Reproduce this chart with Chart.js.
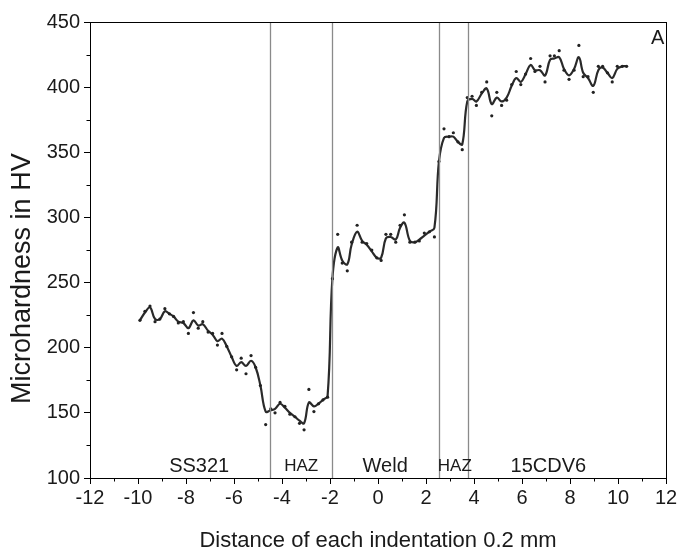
<!DOCTYPE html>
<html>
<head>
<meta charset="utf-8">
<script src="https://cdn.jsdelivr.net/npm/chart.js@4"></script>
<style>
  html, body { margin: 0; padding: 0; background: #fff; }
  #wrap { width: 681px; height: 552px; }
</style>
</head>
<body>
<div id="wrap"><canvas id="c" width="681" height="552"></canvas></div>
<script>
// Measured indentation positions (x, in units of 0.2 mm) and hardness (HV)
const positions = [-9.92,-9.71,-9.50,-9.29,-9.09,-8.88,-8.69,-8.52,-8.32,-8.11,-7.90,-7.69,-7.49,-7.30,-7.08,-6.89,-6.69,-6.50,-6.30,-6.10,
  -5.89,-5.70,-5.50,-5.29,-5.10,-4.90,-4.68,-4.47,-4.29,-4.08,-3.88,-3.67,-3.46,-3.27,-3.08,-2.88,-2.67,-2.48,-2.29,-2.10,
  -1.90,-1.68,-1.49,-1.28,-1.10,-0.87,-0.66,-0.47,-0.26,-0.05,0.13,0.33,0.53,0.74,0.92,1.10,1.33,1.54,1.72,1.93,
  2.14,2.35,2.54,2.75,2.96,3.14,3.33,3.51,3.72,3.92,4.10,4.32,4.53,4.74,4.95,5.15,5.36,5.57,5.76,5.95,
  6.15,6.36,6.54,6.75,6.96,7.17,7.35,7.55,7.75,7.96,8.17,8.37,8.55,8.75,8.97,9.18,9.36,9.56,9.76,9.97,10.18,10.36];
const hardness = [221,228,232,220,222,230,226,224,219,220,211,227,215,220,212,211,202,211,201,193,
  183,192,180,194,185,171,141,153,150,158,155,149,147,142,137,168,151,157,160,162,
  253,287,265,259,281,294,281,280,275,269,267,287,287,281,294,302,281,281,282,288,
  289,285,343,368,362,365,358,352,392,393,386,396,404,378,396,386,390,402,412,402,
  410,422,412,416,404,424,424,428,413,406,413,432,408,408,396,416,416,411,404,416,416,416];
// Smoothed trend line at the same positions
const trend = [221,227,231,222,222,228,226,224,220,219,215,221,217,218,213,210,205,207,201,193,
  186,189,186,190,185,171,151,152,153,157,154,150,147,144,142,158,155,157,160,163,
  253,277,267,264,279,289,282,279,274,269,269,284,285,283,292,296,282,281,283,286,
  289,292,343,361,362,362,358,356,389,391,389,395,399,387,392,389,392,401,407,404,
  410,417,413,413,409,421,422,423,414,409,414,423,411,407,401,413,415,411,407,414,416,416];
// Zone boundaries and labels
const boundaries = [-4.5, -1.9, 2.56, 3.76];
const zoneNames = ['SS321', 'HAZ', 'Weld', 'HAZ', '15CDV6'];
const zoneCenters = [-7.45, -3.2, 0.3, 3.2, 7.1];
const zoneSmall = [false, true, false, true, false];
const zoneLabelY = 109;
const panelLetter = 'A';
const xTicksMajor = [-12,-10,-8,-6,-4,-2,0,2,4,6,8,10,12];
const yTicksMajor = [100,150,200,250,300,350,400,450];
const yTitle = 'Microhardness in HV';
const xTitle = 'Distance of each indentation 0.2 mm';

const FONT = '"Liberation Sans", Arial, sans-serif';

const decor = {
  id: 'decor',
  afterDraw(chart) {
    const { ctx, chartArea: a, scales: { x, y } } = chart;
    ctx.save();
    // boundary lines
    ctx.strokeStyle = '#8a8a8a';
    ctx.lineWidth = 1.3;
    boundaries.forEach(b => {
      const px = Math.round(x.getPixelForValue(b)) + 0.5;
      ctx.beginPath(); ctx.moveTo(px, a.top); ctx.lineTo(px, a.bottom); ctx.stroke();
    });
    // frame
    ctx.strokeStyle = '#000';
    ctx.lineWidth = 1;
    ctx.strokeRect(Math.round(a.left) + 0.5, Math.round(a.top) + 0.5, Math.round(a.right - a.left), Math.round(a.bottom - a.top));
    // minor ticks
    ctx.beginPath();
    for (let v = -11; v <= 11; v += 2) {
      const px = Math.round(x.getPixelForValue(v)) + 0.5;
      ctx.moveTo(px, a.bottom); ctx.lineTo(px, a.bottom + 3.5);
    }
    for (let v = 125; v <= 425; v += 50) {
      const py = Math.round(y.getPixelForValue(v)) + 0.5;
      ctx.moveTo(a.left, py); ctx.lineTo(a.left - 3.5, py);
    }
    ctx.stroke();
    // zone labels
    ctx.fillStyle = '#1a1a1a';
    ctx.textAlign = 'center';
    ctx.textBaseline = 'middle';
    zoneNames.forEach((n, i) => {
      ctx.font = (zoneSmall[i] ? '17px ' : '20px ') + FONT;
      ctx.fillText(n, x.getPixelForValue(zoneCenters[i]), y.getPixelForValue(zoneLabelY));
    });
    // panel letter
    ctx.font = '20px ' + FONT;
    ctx.fillText(panelLetter, x.getPixelForValue(11.65), y.getPixelForValue(437));
    // y axis title (offset below centre, as in the original)
    ctx.save();
    ctx.translate(23, y.getPixelForValue(253));
    ctx.rotate(-Math.PI / 2);
    ctx.font = '27px ' + FONT;
    ctx.fillText(yTitle, 0, 0);
    ctx.restore();
    ctx.restore();
  }
};

new Chart(document.getElementById('c'), {
  type: 'scatter',
  data: {
    datasets: [
      {
        type: 'line',
        data: positions.map((p, i) => ({ x: p, y: trend[i] })),
        borderColor: '#2a2a2a',
        borderWidth: 2.2,
        pointRadius: 0,
        tension: 0.4,
        fill: false,
        order: 2
      },
      {
        data: positions.map((p, i) => ({ x: p, y: hardness[i] })),
        backgroundColor: '#222',
        borderColor: '#222',
        pointRadius: 1.6,
        borderWidth: 0,
        order: 1
      }
    ]
  },
  options: {
    responsive: false,
    animation: false,
    events: [],
    layout: { padding: { left: 0, right: 15, top: 22, bottom: 0 } },
    plugins: { legend: { display: false }, tooltip: { enabled: false } },
    scales: {
      x: {
        type: 'linear', min: -12, max: 12,
        afterBuildTicks: s => { s.ticks = xTicksMajor.map(v => ({ value: v })); },
        afterFit: s => { s.height = 74; },
        grid: { drawOnChartArea: false, drawTicks: true, tickLength: 6, color: '#000', tickColor: '#000' },
        border: { display: true, color: '#000', width: 1 },
        ticks: { color: '#1a1a1a', font: { family: FONT, size: 20 }, padding: 2, maxRotation: 0 },
        title: { display: true, text: xTitle, color: '#1a1a1a', font: { family: FONT, size: 22, lineHeight: 1 }, padding: { top: 8, bottom: 0 } }
      },
      y: {
        type: 'linear', min: 100, max: 450,
        afterBuildTicks: s => { s.ticks = yTicksMajor.map(v => ({ value: v })); },
        afterFit: s => { s.width = 90; },
        grid: { drawOnChartArea: false, drawTicks: true, tickLength: 6, color: '#000', tickColor: '#000' },
        border: { display: true, color: '#000', width: 1 },
        ticks: { color: '#1a1a1a', font: { family: FONT, size: 20 }, padding: 4 },
        title: { display: false }
      }
    }
  },
  plugins: [decor]
});
</script>
</body>
</html>
